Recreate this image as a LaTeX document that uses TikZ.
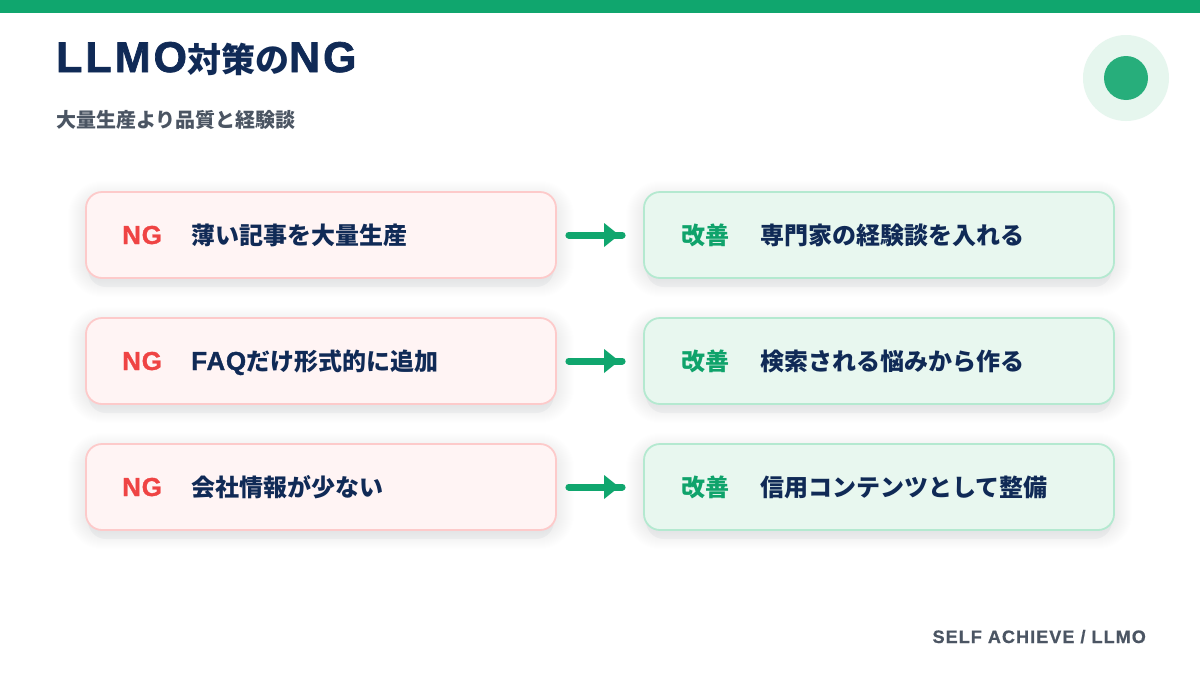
\documentclass[tikz,border=0pt]{standalone}
\usepackage{fontspec}
\setmainfont{Noto Sans CJK JP}
\newfontfamily\jp{Noto Sans CJK JP Black}
\newfontfamily\lat{Liberation Sans}[LetterSpace=3, BoldFeatures={FakeBold=1.2}]
\newfontfamily\tlat{Liberation Sans}[LetterSpace=7, BoldFeatures={FakeBold=1.6}]
\newfontfamily\footfont{Liberation Sans}[LetterSpace=6, BoldFeatures={FakeBold=0.8}]
\definecolor{topgreen}{HTML}{10A66E}
\definecolor{navy}{HTML}{102A56}
\definecolor{subgray}{HTML}{4B5563}
\definecolor{ngred}{HTML}{EF4444}
\definecolor{okgreen}{HTML}{0FA36B}
\definecolor{ngfill}{HTML}{FFF4F4}
\definecolor{ngline}{HTML}{FDCACA}
\definecolor{okfill}{HTML}{E8F7EF}
\definecolor{okline}{HTML}{B4E9D0}
\definecolor{ringfill}{HTML}{E6F6EE}
\definecolor{dotfill}{HTML}{27AE7B}
\definecolor{arrowgreen}{HTML}{10A66E}
\definecolor{shadowc}{HTML}{7A8498}
\tikzset{
  card/.style={rounded corners=16pt, line width=1.8pt, minimum width=470pt, minimum height=86pt},
  ngbox/.style={card, draw=ngline, fill=ngfill},
  okbox/.style={card, draw=okline, fill=okfill},
  lbl/.style={inner sep=0pt, anchor=base west, font=\jp\fontsize{24}{26}\selectfont},
  nglabel/.style={lbl, text=ngred},
  oklabel/.style={lbl, text=okgreen},
  bodytext/.style={lbl, text=navy},
  arrowline/.style={draw=arrowgreen, line width=7pt, line cap=round},
  arrowhead/.style={fill=arrowgreen, draw=none},
  softshadow/.style={fill=shadowc, opacity=0.005},
  tightshadow/.style={fill=shadowc, opacity=0.07}
}
\newcommand{\La}[1]{{\lat\bfseries\fontsize{26}{28}\selectfont #1}}
\newcommand{\Lt}[1]{{\tlat\bfseries\fontsize{43}{44}\selectfont #1}}
\begin{document}
\begin{tikzpicture}[x=1pt,y=-1pt]
\useasboundingbox (0,0) rectangle (1200,675);
\fill[white] (0,0) rectangle (1200,675);
\fill[topgreen] (0,0) rectangle (1200,13);
\node[inner sep=0pt, anchor=base west, text=navy, font=\jp\fontsize{34}{40}\selectfont] (title) at (56,72) {\Lt{LLMO}対策の\Lt{NG}};
\node[inner sep=0pt, anchor=base west, text=subgray, font=\jp\fontsize{20}{22}\selectfont] (subtitle) at (56,127) {大量生産より品質と経験談};
\fill[ringfill] (1126,78) circle (43);
\fill[dotfill] (1126,78) circle (22);
\node[inner sep=0pt, anchor=base east, text=subgray, font=\footfont\bfseries\fontsize{18}{20}\selectfont] (footer) at (1146,643) {SELF ACHIEVE / LLMO};
% shadows
\foreach \y in {235,361,487}{
  \foreach \k in {1,...,18}{
    \fill[softshadow, rounded corners=16+\k] (86-\k,\y-36-\k) rectangle (556+\k,\y+44+\k);
    \fill[softshadow, rounded corners=16+\k] (644-\k,\y-36-\k) rectangle (1114+\k,\y+44+\k);
  }
  \fill[tightshadow, rounded corners=18] (88,\y-30) rectangle (554,\y+52);
  \fill[tightshadow, rounded corners=18] (646,\y-30) rectangle (1112,\y+52);
}
% rows
\foreach \i/\y/\ng/\ok in {1/235/薄い記事を大量生産/専門家の経験談を入れる, 2/361/{\La{FAQ}だけ形式的に追加}/検索される悩みから作る, 3/487/会社情報が少ない/信用コンテンツとして整備}{
  \node[ngbox] (ng\i) at (321,\y) {};
  \node[okbox] (ok\i) at (879,\y) {};
  \node[nglabel] (ngl\i) at (122,\y+9) {\La{NG}};
  \node[bodytext] (ngt\i) at (191,\y+9) {\ng};
  \node[oklabel] (okl\i) at (681,\y+9) {改善};
  \node[bodytext] (okt\i) at (760,\y+9) {\ok};
  \draw[arrowline] ([xshift=12pt]ng\i.east) -- ([xshift=-21pt]ok\i.west);
  \fill[arrowhead] ([xshift=-39pt,yshift=12pt]ok\i.west) -- ([xshift=-24pt]ok\i.west) -- ([xshift=-39pt,yshift=-12pt]ok\i.west) -- cycle;
}
\end{tikzpicture}
\end{document}
